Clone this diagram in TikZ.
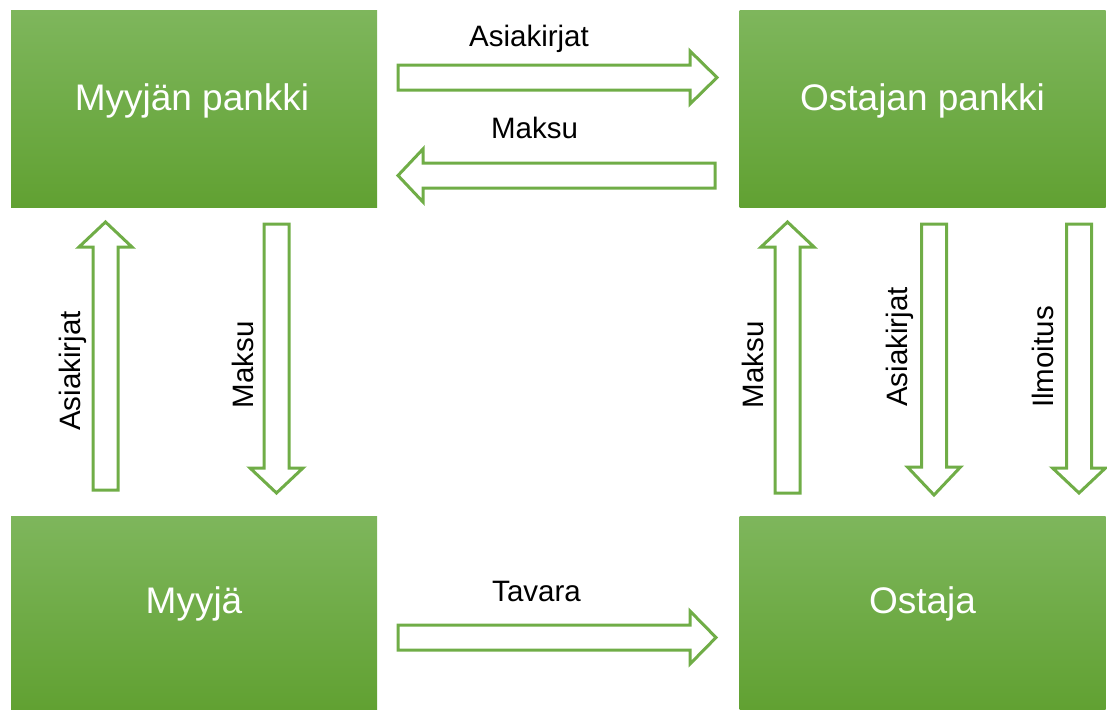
\documentclass[tikz,border=0pt]{standalone}
\usepackage{fontspec}
\setmainfont{Liberation Sans}
\definecolor{boxtop}{HTML}{7EB65C}
\definecolor{boxbot}{HTML}{61A132}
\definecolor{arrowgreen}{HTML}{70AD47}
\newcommand\harrow[4]{% x start, head base x, tip x, y centre
  \draw[blockarrow] (#1,#4-12.5) -- (#2,#4-12.5) -- (#2,#4-26.5) -- (#3,#4)
    -- (#2,#4+26.5) -- (#2,#4+12.5) -- (#1,#4+12.5) -- cycle;}
\newcommand\varrow[4]{% x centre, y start, head base y, tip y
  \draw[blockarrow] (#1-12.5,#2) -- (#1-12.5,#3) -- (#1-26.5,#3) -- (#1,#4)
    -- (#1+26.5,#3) -- (#1+12.5,#3) -- (#1+12.5,#2) -- cycle;}
\begin{document}
\begin{tikzpicture}[x=1pt,y=-1pt,
  greenbox/.style={rectangle, inner sep=0pt, draw=none,
    top color=boxtop, bottom color=boxbot,
    minimum width=366pt, minimum height=#1},
  greenbox/.default=196pt,
  boxtext/.style={text=white, font=\fontsize{37}{44}\selectfont},
  arrowtext/.style={text=black, font=\fontsize{29.5}{35}\selectfont},
  blockarrow/.style={draw=arrowgreen, line width=3pt, fill=white, line join=miter}]
\useasboundingbox (0,0) rectangle (1107,709);
% boxes
\node[greenbox] (mp) at (194,109) {};
\node[greenbox] (op) at (922.5,109) {};
\node[greenbox=193pt] (my) at (194,612.5) {};
\node[greenbox=193pt] (os) at (922.5,612.5) {};
\node[boxtext] (mpt) at ([yshift=8.5pt,xshift=-2pt]mp.center) {Myyjän pankki};
\node[boxtext] (opt) at ([yshift=8.5pt]op.center) {Ostajan pankki};
\node[boxtext] (myt) at ([yshift=9pt]my.center) {Myyjä};
\node[boxtext] (ost) at ([yshift=9pt]os.center) {Ostaja};
% horizontal arrows
\harrow{398}{690}{717}{77.5}
\harrow{715}{423}{398}{175.5}
\harrow{398}{690}{716}{637.5}
% vertical arrows
\varrow{105.5}{490}{247}{222}
\varrow{276.5}{224}{468}{493}
\varrow{787.5}{493}{247}{222}
\varrow{934}{224}{467}{495}
\varrow{1079}{224}{468}{493}
% labels
\node[arrowtext] (l1) at (529,39) {Asiakirjat};
\node[arrowtext] (l2) at (534.5,127.5) {Maksu};
\node[arrowtext] (l3) at (536.5,591.5) {Tavara};
\node[arrowtext, rotate=90] (l4) at (73,371) {Asiakirjat};
\node[arrowtext, rotate=90] (l5) at (242.5,365) {Maksu};
\node[arrowtext, rotate=90] (l6) at (753,365) {Maksu};
\node[arrowtext, rotate=90] (l7) at (900,347) {Asiakirjat};
\node[arrowtext, rotate=90] (l8) at (1042.5,357) {Ilmoitus};
\end{tikzpicture}
\end{document}
